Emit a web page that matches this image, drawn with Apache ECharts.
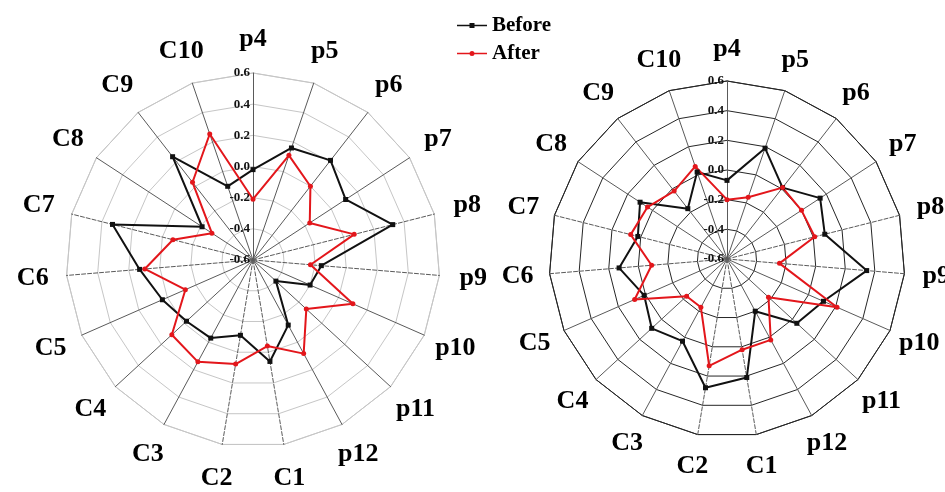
<!DOCTYPE html>
<html>
<head>
<meta charset="utf-8">
<title>Before / After radar</title>
<script src="https://cdn.jsdelivr.net/npm/echarts@6/dist/echarts.min.js"></script>
<style>
  html, body { margin: 0; padding: 0; background: #ffffff; }
  #chart { width: 945px; height: 492px; }
</style>
</head>
<body>
<div id="chart"></div>
<script>
// Indicators, listed clockwise starting from the top axis
const indicators = ['p4', 'p5', 'p6', 'p7', 'p8', 'p9', 'p10', 'p11', 'p12',
                    'C1', 'C2', 'C3', 'C4', 'C5', 'C6', 'C7', 'C8', 'C9', 'C10'];

// Radial scale labels (centre -> rim)
const tickLabels = ['-0.6', '-0.4', '-0.2', '0.0', '0.2', '0.4', '0.6'];

// Left radar
const leftBefore = [-0.02, 0.16, 0.21, 0.11, 0.325, -0.16, -0.20, -0.40, -0.125,
                    0.06, -0.11, -0.03, -0.02, 0.035, 0.13, 0.33, -0.21, 0.24, -0.10];
const leftAfter  = [-0.21, 0.11, 0.00, -0.165, 0.07, -0.23, 0.10, -0.135, 0.083,
                    -0.04, 0.077, 0.143, 0.108, -0.126, 0.097, -0.07, -0.285, 0.032, 0.255];

// Right radar
const rightBefore = [-0.07, 0.19, 0.01, 0.15, 0.08, 0.345, 0.11, 0.04, -0.20,
                     0.21, 0.28, 0.03, 0.09, 0.01, 0.13, 0.02, 0.10, -0.17, 0.02];
const rightAfter  = [-0.20, -0.16, 0.01, 0.00, 0.01, -0.245, 0.21, -0.22, 0.02,
                     0.02, 0.13, -0.23, -0.23, 0.08, -0.09, 0.07, 0.04, -0.02, 0.06];

// Spokes drawn with a dashed stroke
const dashedSpokes = ['p8', 'p9', 'C1', 'C2', 'C6', 'C7'];

const seriesNames = ['Before', 'After'];
const RED = '#e3161b';
const BLACK = '#111111';

const axisMin = parseFloat(tickLabels[0]);
const axisMax = parseFloat(tickLabels[tickLabels.length - 1]);
const splitNumber = tickLabels.length - 1;

// ECharts lays radar indicators out counter-clockwise; reorder so they read clockwise
const order = indicators.map((_, i) => (indicators.length - i) % indicators.length);
const reorder = arr => order.map(k => arr[k]);

function fmtTick(v) {
  const r = Math.round(v * 10) / 10;
  return (r === 0 ? 0 : r).toFixed(1);
}

function buildIndicators(spokeColor) {
  return order.map(k => ({
    name: indicators[k],
    min: axisMin,
    max: axisMax,
    axisLabel: { show: k === 0 },
    axisLine: {
      lineStyle: {
        color: spokeColor,
        type: dashedSpokes.includes(indicators[k]) ? 'dashed' : 'solid'
      }
    }
  }));
}

function radarBase(center, radius, ringColor, spokeColor, nameGap) {
  return {
    center: center,
    radius: radius,
    startAngle: 90,
    shape: 'polygon',
    splitNumber: splitNumber,
    indicator: buildIndicators(spokeColor),
    nameGap: nameGap,
    axisName: {
      color: '#000',
      fontFamily: 'Liberation Serif',
      fontWeight: 'bold',
      fontSize: 26,
      align: 'center',
      verticalAlign: 'middle'
    },
    axisLine: { show: true, lineStyle: { color: spokeColor, width: 1 } },
    axisTick: { show: false },
    axisLabel: {
      show: true,
      margin: 3,
      color: '#111',
      fontFamily: 'Liberation Serif',
      fontWeight: 'bold',
      fontSize: 13,
      formatter: fmtTick
    },
    splitLine: { show: true, lineStyle: { color: ringColor, width: 1 } },
    splitArea: { show: false }
  };
}

function radarSeries(radarIndex, before, after, lineWidth) {
  return {
    type: 'radar',
    radarIndex: radarIndex,
    silent: true,
    data: [
      {
        name: seriesNames[0],
        value: reorder(before),
        symbol: 'rect',
        symbolSize: 5,
        lineStyle: { color: BLACK, width: lineWidth },
        itemStyle: { color: BLACK }
      },
      {
        name: seriesNames[1],
        value: reorder(after),
        symbol: 'circle',
        symbolSize: 5,
        lineStyle: { color: RED, width: lineWidth },
        itemStyle: { color: RED }
      }
    ]
  };
}

const chart = echarts.init(document.getElementById('chart'), null, { renderer: 'canvas' });

chart.setOption({
  animation: false,
  backgroundColor: '#ffffff',
  textStyle: { fontFamily: 'Liberation Serif' },
  legend: {
    orient: 'vertical',
    left: 452,
    top: 10,
    itemWidth: 30,
    itemHeight: 5,
    itemGap: 7,
    selectedMode: false,
    textStyle: { color: '#000', fontFamily: 'Liberation Serif', fontWeight: 'bold', fontSize: 21 },
    data: [
      { name: seriesNames[0], icon: 'path://M0,1.8 L30,1.8 L30,3.2 L0,3.2 Z M12.5,0 L17.5,0 L17.5,5 L12.5,5 Z' },
      { name: seriesNames[1], icon: 'path://M0,1.8 L30,1.8 L30,3.2 L0,3.2 Z M15,0 A2.5,2.5 0 1 1 15,5 A2.5,2.5 0 1 1 15,0 Z' }
    ]
  },
  radar: [
    radarBase([253, 260], 187, '#c6c6c6', '#5a5a5a', 34),
    radarBase([727, 259], 178, '#262626', '#5a5a5a', 32)
  ],
  series: [
    radarSeries(0, leftBefore, leftAfter, 2),
    radarSeries(1, rightBefore, rightAfter, 2)
  ]
});
</script>
</body>
</html>
